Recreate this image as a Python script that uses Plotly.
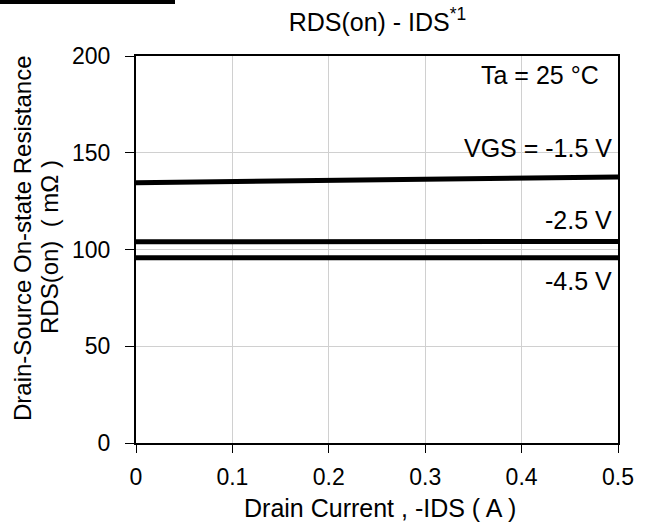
import plotly.graph_objects as go

ids = [0, 0.1, 0.2, 0.3, 0.4, 0.5]
r_vgs_1_5 = [134.5, 135.0, 135.4, 135.9, 136.6, 137.5]
r_vgs_2_5 = [104.0, 104.0, 104.0, 104.0, 104.0, 104.1]
r_vgs_4_5 = [95.8, 95.8, 95.8, 95.8, 95.8, 95.8]

x_ticks = [0, 0.1, 0.2, 0.3, 0.4, 0.5]
x_tick_text = ["0", "0.1", "0.2", "0.3", "0.4", "0.5"]
y_ticks = [0, 50, 100, 150, 200]

FONT = "Liberation Sans, Arial, sans-serif"
FS = 23
FA = 25

L, R, T, B = 136, 33, 56, 81
W, H = 651, 524
PW, PH = W - L - R, H - T - B

fig = go.Figure()
for ys in (r_vgs_1_5, r_vgs_2_5, r_vgs_4_5):
    fig.add_trace(go.Scatter(x=ids, y=ys, mode="lines",
                             line=dict(color="black", width=5),
                             showlegend=False, cliponaxis=False))

fig.update_layout(
    width=W, height=H,
    margin=dict(l=L, r=R, t=T, b=B),
    paper_bgcolor="white", plot_bgcolor="white",
    font=dict(family=FONT, size=FS, color="black"),
    title=dict(text="RDS(on) - IDS<sup>*1</sup>", x=377.5 / W,
               xanchor="center", y=1 - 22 / H, yanchor="middle",
               font=dict(family=FONT, size=25, color="black")),
    xaxis=dict(range=[0, 0.5], tickvals=x_ticks, ticktext=x_tick_text,
               showgrid=True, gridcolor="#d0d0d0", gridwidth=1,
               showline=True, linecolor="black", linewidth=2, mirror=True,
               ticks="outside", ticklen=8, tickwidth=1, tickcolor="black",
               tickfont=dict(size=FS), zeroline=False, ticklabelstandoff=4),
    yaxis=dict(range=[0, 200], tickvals=y_ticks,
               showgrid=True, gridcolor="#d0d0d0", gridwidth=1,
               showline=True, linecolor="black", linewidth=2, mirror=True,
               ticks="outside", ticklen=9, tickwidth=1, tickcolor="black",
               tickfont=dict(size=FS), zeroline=False, ticklabelstandoff=10),
)

anns = [
    dict(text="Ta = 25 °C", x=0.5, y=190.2, xshift=-17),
    dict(text="VGS = -1.5 V", x=0.5, y=152.5, xshift=-4),
    dict(text="-2.5 V", x=0.5, y=115.2, xshift=-4),
    dict(text="-4.5 V", x=0.5, y=83.7, xshift=-4),
]
for a in anns:
    fig.add_annotation(xref="x", yref="y", showarrow=False, xanchor="right",
                       yanchor="middle", font=dict(family=FONT, size=FA, color="black"), **a)

fig.add_annotation(xref="paper", yref="paper", x=(380 - L) / PW, y=0, yshift=-65,
                   text="Drain Current , -IDS ( A )", showarrow=False,
                   xanchor="center", yanchor="middle",
                   font=dict(family=FONT, size=25, color="black"))

fig.add_annotation(xref="paper", yref="paper", x=0, y=(H - B - 239) / PH, xshift=-(L - 23),
                   text="Drain-Source On-state Resistance", textangle=-90,
                   showarrow=False, xanchor="center", yanchor="middle",
                   font=dict(family=FONT, size=24, color="black"))
fig.add_annotation(xref="paper", yref="paper", x=0, y=(H - B - 247) / PH, xshift=-(L - 49),
                   text="RDS(on)\u00a0\u00a0(\u00a0mΩ\u00a0)", textangle=-90,
                   showarrow=False, xanchor="center", yanchor="middle",
                   font=dict(family=FONT, size=24, color="black"))

# cut-off header bar at top-left
fig.add_shape(type="rect", xref="paper", yref="paper",
              x0=-L / PW, x1=(175 - L) / PW, y0=1 + (T - 4) / PH, y1=1 + T / PH,
              fillcolor="black", line=dict(width=0), layer="above")

fig.write_html("out.html")
